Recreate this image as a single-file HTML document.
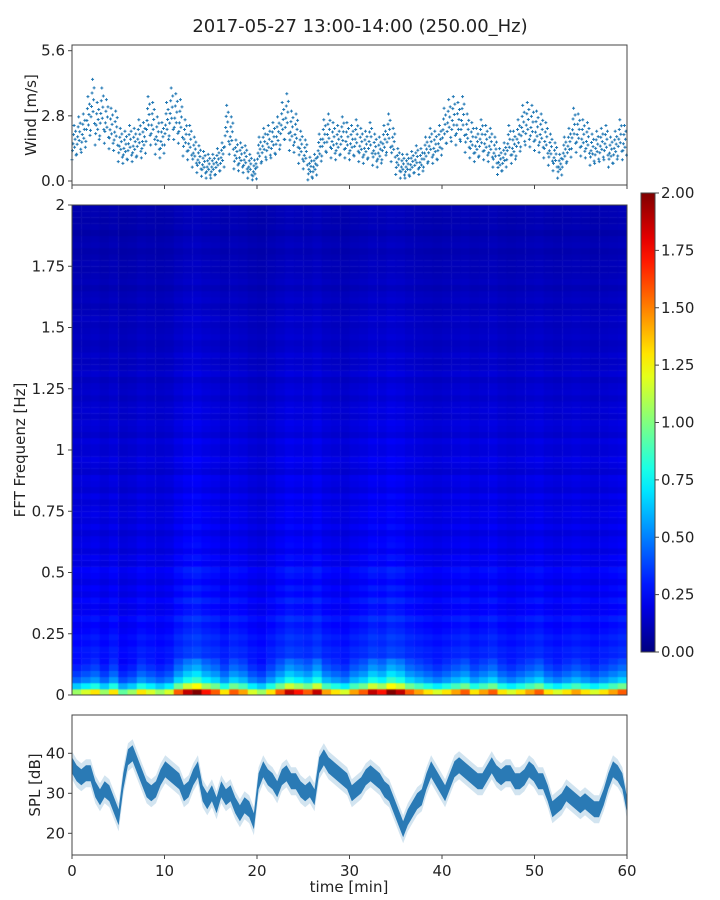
<!DOCTYPE html>
<html><head><meta charset="utf-8"><style>
body{margin:0;background:#fff;}
svg text{font-family:"DejaVu Sans","Liberation Sans",sans-serif;fill:#222;}
#wrap{position:relative;width:720px;height:900px;}
canvas{position:absolute;}
</style></head><body>
<div id="wrap">
<canvas id="spec" width="555" height="490" style="left:72px;top:205px"></canvas>
<svg id="svg" width="720" height="900" style="position:absolute;left:0;top:0"></svg>
</div>
<script>
const windVals=[1.6,1.9,2.0,2.6,3.2,2.4,2.9,2.5,2.2,2.1,1.5,1.4,1.6,1.5,1.8,1.7,2.6,2.4,1.9,1.7,
2.4,2.9,2.7,2.5,1.8,1.6,1.2,0.9,0.7,0.6,0.6,0.8,1.0,2.3,1.9,1.1,1.0,0.9,0.6,0.4,
1.2,1.5,1.6,1.7,1.9,2.4,2.7,2.1,2.0,1.4,1.1,0.5,0.6,1.3,1.8,2.0,1.7,1.6,1.9,1.7,
1.6,1.8,1.5,1.4,1.7,1.3,1.2,1.6,2.0,1.5,0.8,0.6,0.6,0.7,0.9,0.8,1.2,1.5,1.4,1.6,
2.2,2.5,2.6,2.4,2.6,2.0,1.7,1.5,1.8,1.6,1.5,1.2,0.8,1.0,1.6,1.4,1.8,2.3,2.4,2.3,
2.1,2.0,1.7,1.3,1.0,0.6,1.2,1.5,2.2,2.0,1.8,1.7,1.3,1.4,1.5,1.6,1.2,1.4,1.8,1.6];
const splVals=[37,35,34,35,35,31,29,31,30,27,24,33,39,40,37,34,31,30,31,34,
36,35,34,33,30,31,34,36,30,28,30,27,31,29,30,27,25,27,26,23,
33,36,34,33,31,34,35,33,33,31,30,31,29,37,39,37,36,35,34,33,
30,31,32,34,35,34,33,31,30,27,24,21,24,26,28,29,33,36,34,32,
30,33,36,37,36,35,34,33,33,35,37,35,34,35,35,33,33,34,36,35,
33,33,30,26,27,28,30,29,28,27,28,27,26,26,29,33,36,35,33,27];
const freqProfile=[1.3,0.8,0.55,0.45,0.38,0.33,0.3,0.31,0.28,0.3,
0.27,0.25,0.29,0.24,0.23,0.27,0.22,0.25,0.21,0.24,
0.26,0.2,0.23,0.19,0.22,0.21,0.18,0.22,0.19,0.21,
0.2,0.18,0.21,0.17,0.19,0.2,0.16,0.18,0.2,0.17,
0.17,0.19,0.15,0.17,0.18,0.15,0.17,0.16,0.14,0.16,
0.15,0.13,0.16,0.14,0.13,0.15,0.13,0.12,0.14,0.13,
0.12,0.14,0.12,0.11,0.13,0.12,0.1,0.12,0.11,0.1,
0.11,0.1,0.09,0.11,0.1,0.08,0.1,0.09,0.1,0.1];
const timeMod=[0.9,0.95,1.0,0.9,1.0,0.85,0.9,1.0,0.95,0.9,0.95,1.1,1.2,1.25,1.15,1.1,1.0,1.1,1.05,0.95,
0.9,1.0,1.1,1.2,1.15,1.1,1.2,1.05,1.0,0.95,1.05,1.1,1.2,1.15,1.25,1.2,1.1,1.05,1.0,0.95,
1.0,1.05,1.1,1.0,1.05,1.1,1.0,0.95,1.0,1.05,1.1,1.0,0.95,1.0,1.05,1.0,0.95,1.0,1.05,1.1];
const windTicks=[0.0,2.8,5.6];
const freqTicks=[0,0.25,0.5,0.75,1,1.25,1.5,1.75,2];
const cbTicks=[0,0.25,0.5,0.75,1,1.25,1.5,1.75,2];
const splTicks=[20,30,40];
const timeTicks=[0,10,20,30,40,50,60];

const X0=72,X1=627;
const xT=t=>X0+(t/60)*(X1-X0);
const yW=v=>181-(v/5.6)*130.3;
const yF=f=>695-(f/2)*490;
const yS=d=>793.3-(d-30)*4;
const yC=v=>652-(v/2)*459;
function jet(v){v=Math.max(0,Math.min(1,v));
 const r=Math.max(0,Math.min(1,1.5-Math.abs(4*v-3)));
 const g=Math.max(0,Math.min(1,1.5-Math.abs(4*v-2)));
 const b=Math.max(0,Math.min(1,1.5-Math.abs(4*v-1)));
 return `rgb(${Math.round(r*255)},${Math.round(g*255)},${Math.round(b*255)})`;}
const NS='http://www.w3.org/2000/svg';
const svg=document.getElementById('svg');
function el(tag,attrs,parent){const e=document.createElementNS(NS,tag);for(const k in attrs)e.setAttribute(k,attrs[k]);(parent||svg).appendChild(e);return e;}
function txt(x,y,s,size,anchor,extra){const e=el('text',Object.assign({x:x,y:y,'font-size':size,'text-anchor':anchor||'middle'},extra||{}));e.textContent=s;return e;}

// spectrogram
const ctx=document.getElementById('spec').getContext('2d');
const cw=(X1-X0)/timeMod.length, rh=490/freqProfile.length;
for(let i=0;i<timeMod.length;i++){for(let j=0;j<freqProfile.length;j++){
 const m=j<6?timeMod[i]*timeMod[i]:timeMod[i];
 const v=freqProfile[j]*m;
 ctx.fillStyle=jet(v/2);
 ctx.fillRect(i*cw,490-(j+1)*rh,cw+0.5,rh+0.5);}}

// title
const title=txt(360,32,'2017-05-27 13:00-14:00 (250.00_Hz)',18);


// wind panel
const wg=el('g',{});
const offs=[-0.7,-0.3,0,0.4,0.8,-0.15,0.2,0.55,-0.5];
windVals.forEach((v,i)=>{offs.forEach((o,k)=>{
 const t=(i+k/offs.length)*0.5;const val=Math.max(0.05,v+o*(0.5+v*0.3));
 const x=xT(t),y=yW(val);
 const p=el('path',{d:`M${x-1.5},${y}h3M${x},${y-1.5}v3`,stroke:'#1f77b4','stroke-width':1},wg);
 });});
const wf=el('rect',{x:X0,y:45,width:X1-X0,height:140,fill:'none',stroke:'#444'});

windTicks.forEach(v=>{el('line',{x1:X0-4,x2:X0,y1:yW(v),y2:yW(v),stroke:'#444'});txt(X0-7,yW(v)+5,v.toFixed(1),15,'end');});
timeTicks.forEach(t=>el('line',{x1:xT(t),x2:xT(t),y1:185,y2:189,stroke:'#444'}));
const wl=txt(36,115,'Wind [m/s]',15,'middle',{transform:'rotate(-90 36 115)'});


// spectrogram axes
const sf=el('rect',{x:X0,y:205,width:X1-X0,height:490,fill:'none',stroke:'#444'});

freqTicks.forEach(f=>{el('line',{x1:X0-4,x2:X0,y1:yF(f),y2:yF(f),stroke:'#444'});txt(X0-7,yF(f)+5,String(f),15,'end');});
const fl=txt(25,450,'FFT Frequenz [Hz]',15,'middle',{transform:'rotate(-90 25 450)'});


// colorbar
const defs=el('defs',{});const lg=el('linearGradient',{id:'jg',x1:0,y1:1,x2:0,y2:0},defs);
for(let k=0;k<=20;k++)el('stop',{offset:k/20,'stop-color':jet(k/20)},lg);
const cb=el('rect',{x:641,y:193,width:14,height:459,fill:'url(#jg)',stroke:'#444'});

cbTicks.forEach(v=>{el('line',{x1:655,x2:659,y1:yC(v),y2:yC(v),stroke:'#444'});txt(661,yC(v)+5,v.toFixed(2),15,'start');});

// SPL panel
const up=splVals.map((v,i)=>`${xT(i*60/(splVals.length-1))},${yS(v+3.5)}`);
const lo=splVals.map((v,i)=>`${xT(i*60/(splVals.length-1))},${yS(v-3.5)}`).reverse();
const band=el('polygon',{points:up.concat(lo).join(' '),fill:'#1f77b4','fill-opacity':0.2});

const up2=splVals.map((v,i)=>`${xT(i*60/(splVals.length-1))},${yS(v+2)}`);
const lo2=splVals.map((v,i)=>`${xT(i*60/(splVals.length-1))},${yS(v-2)}`).reverse();
const band2=el('polygon',{points:up2.concat(lo2).join(' '),fill:'#2a7ab5'});

const bf=el('rect',{x:X0,y:715,width:X1-X0,height:140,fill:'none',stroke:'#444'});

splTicks.forEach(v=>{el('line',{x1:X0-4,x2:X0,y1:yS(v),y2:yS(v),stroke:'#444'});txt(X0-7,yS(v)+5,String(v),15,'end');});
timeTicks.forEach(t=>{el('line',{x1:xT(t),x2:xT(t),y1:855,y2:859,stroke:'#444'});txt(xT(t),876,String(t),15);});
const sl=txt(40,785,'SPL [dB]',15,'middle',{transform:'rotate(-90 40 785)'});

const xl=txt(349,892,'time [min]',15);

</script>
</body></html>
